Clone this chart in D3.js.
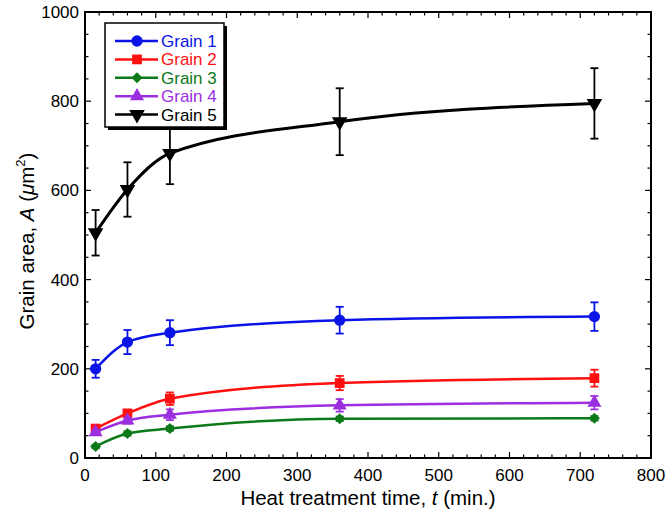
<!DOCTYPE html>
<html>
<head>
<meta charset="utf-8">
<script src="https://cdn.jsdelivr.net/npm/d3@7"></script>
<style>
body{margin:0;background:#fff;}
svg{display:block;font-family:"Liberation Sans",Arial,sans-serif;}
</style>
</head>
<body>
<svg width="666" height="519"></svg>
<script>
// heat treatment time (min.)
const times = [15, 60, 120, 360, 720];
const names = ["Grain 1", "Grain 2", "Grain 3", "Grain 4", "Grain 5"];
const grain1 = [200, 260, 281, 309, 317];
const grain1Err = [20, 27, 28, 30, 32];
const grain2 = [66, 100, 133, 168, 179];
const grain2Err = [6, 8, 14, 16, 19];
const grain3 = [26, 55, 66, 88, 89];
const grain3Err = [4, 5, 5, 5, 5];
const grain4 = [58, 84, 97, 118, 124];
const grain4Err = [5, 7, 12, 14, 15];
const grain5 = [505, 602, 683, 754, 795];
const grain5Err = [51, 61, 69, 75, 79];
const xTicks = [0, 100, 200, 300, 400, 500, 600, 700, 800];
const yTicks = [0, 200, 400, 600, 800, 1000];

const colors = ["#0a14e6", "#ff1010", "#0d7a1a", "#9b2fe0", "#000000"];
const symbols = [d3.symbolCircle, d3.symbolSquare, d3.symbolSquare, d3.symbolTriangle, d3.symbolTriangle];
const symSize = [100, 95, 60, 85, 105];
const symRot = [0, 0, 45, 0, 180];

const errs = [grain1Err, grain2Err, grain3Err, grain4Err, grain5Err];
const series = [grain1, grain2, grain3, grain4, grain5].map((v, i) => ({
	name: names[i],
	color: colors[i],
	values: v.map((a, j) => ({t: times[j], a: a, e: errs[i][j]}))
}));

const svg = d3.select("svg");
const margin = {top: 12, right: 15, bottom: 61, left: 85};
const W = 666, H = 519;
const x = d3.scaleLinear().domain([0, 800]).range([margin.left, W - margin.right]);
const y = d3.scaleLinear().domain([0, 1000]).range([H - margin.bottom, margin.top]);

// ticks, pointing inward on all four sides
const ax = svg.append("g").attr("stroke", "#000").attr("stroke-width", 1.2);
d3.range(0, 801, 20).forEach(v => {
	let len = v % 100 === 0 ? 6 : 3.5;
	ax.append("line").attr("x1", x(v)).attr("x2", x(v)).attr("y1", y(0)).attr("y2", y(0) - len);
	ax.append("line").attr("x1", x(v)).attr("x2", x(v)).attr("y1", y(1000)).attr("y2", y(1000) + len);
});
d3.range(0, 1001, 50).forEach(v => {
	let len = v % 200 === 0 ? 6 : 3.5;
	ax.append("line").attr("y1", y(v)).attr("y2", y(v)).attr("x1", x(0)).attr("x2", x(0) + len);
	ax.append("line").attr("y1", y(v)).attr("y2", y(v)).attr("x1", x(800)).attr("x2", x(800) - len);
});
svg.append("rect")
	.attr("x", x(0)).attr("y", y(1000))
	.attr("width", x(800) - x(0)).attr("height", y(0) - y(1000))
	.attr("fill", "none").attr("stroke", "#000").attr("stroke-width", 2);

// tick labels
svg.append("g").selectAll("text").data(xTicks).join("text")
	.attr("x", d => x(d)).attr("y", y(0) + 23)
	.attr("text-anchor", "middle").attr("font-size", 17)
	.text(d => d);
svg.append("g").selectAll("text").data(yTicks).join("text")
	.attr("x", x(0) - 6).attr("y", d => y(d) + 6)
	.attr("text-anchor", "end").attr("font-size", 17)
	.text(d => d);

// axis titles
const xt = svg.append("text").attr("x", 368).attr("y", 505)
	.attr("text-anchor", "middle").attr("font-size", 20.5);
xt.append("tspan").text("Heat treatment time, ");
xt.append("tspan").attr("font-style", "italic").text("t");
xt.append("tspan").text(" (min.)");

const yt = svg.append("text")
	.attr("transform", "translate(34,241) rotate(-90)")
	.attr("text-anchor", "middle").attr("font-size", 20.5);
yt.append("tspan").text("Grain area, ");
yt.append("tspan").attr("font-style", "italic").text("A");
yt.append("tspan").text(" (");
yt.append("tspan").attr("font-style", "italic").text("μ");
yt.append("tspan").text("m");
yt.append("tspan").attr("font-size", 13).attr("dy", -9).text("2");
yt.append("tspan").attr("dy", 9).text(")");

// curves, error bars, markers
const line = d3.line().x(d => x(d.t)).y(d => y(d.a)).curve(d3.curveMonotoneX);
const plot = svg.append("g");
series.forEach((s, i) => {
	let g = plot.append("g");
	g.append("path").datum(s.values).attr("d", line)
		.attr("fill", "none").attr("stroke", s.color).attr("stroke-width", i === 4 ? 3 : 2.5);
	let eb = g.append("g").attr("stroke", s.color).attr("stroke-width", 1.8);
	s.values.forEach(d => {
		eb.append("line").attr("x1", x(d.t)).attr("x2", x(d.t)).attr("y1", y(d.a - d.e)).attr("y2", y(d.a + d.e));
		[d.a - d.e, d.a + d.e].forEach(v => {
			eb.append("line").attr("x1", x(d.t) - 4).attr("x2", x(d.t) + 4).attr("y1", y(v)).attr("y2", y(v));
		});
	});
	g.selectAll("path.m").data(s.values).join("path")
		.attr("class", "m")
		.attr("d", d3.symbol().type(symbols[i]).size(symSize[i]))
		.attr("transform", d => `translate(${x(d.t)},${y(d.a)}) rotate(${symRot[i]})`)
		.attr("fill", s.color);
});

// legend
const lg = svg.append("g");
lg.append("rect").attr("x", 108).attr("y", 26).attr("width", 119).attr("height", 104).attr("fill", "#000");
lg.append("rect").attr("x", 105).attr("y", 23).attr("width", 119).attr("height", 104)
	.attr("fill", "#fff").attr("stroke", "#000").attr("stroke-width", 1.5);
series.forEach((s, i) => {
	let yy = 41 + i * 18.4;
	lg.append("line").attr("x1", 115).attr("x2", 158).attr("y1", yy).attr("y2", yy)
		.attr("stroke", s.color).attr("stroke-width", 2.5);
	lg.append("path")
		.attr("d", d3.symbol().type(symbols[i]).size(symSize[i]))
		.attr("transform", `translate(137,${yy}) rotate(${symRot[i]})`)
		.attr("fill", s.color);
	lg.append("text").attr("x", 161).attr("y", yy + 6)
		.attr("font-size", 17).attr("fill", s.color).text(s.name);
});
</script>
</body>
</html>
